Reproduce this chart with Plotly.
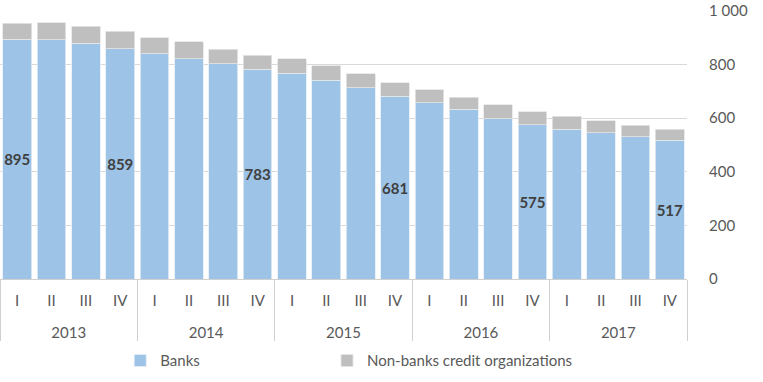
import plotly.graph_objects as go

years = ["2013"] * 4 + ["2014"] * 4 + ["2015"] * 4 + ["2016"] * 4 + ["2017"] * 4
quarters = ["I", "II", "III", "IV"] * 5
banks = [895, 893, 879, 859, 840, 821, 803, 783, 768, 742, 713, 681,
         657, 633, 598, 575, 558, 546, 531, 517]
nonbanks = [59, 64, 64, 65, 60, 64, 55, 51, 54, 54, 52, 51,
            49, 46, 52, 49, 49, 44, 43, 42]
label_idx = [0, 3, 7, 11, 15, 19]
bank_labels = [str(v) if i in label_idx else "" for i, v in enumerate(banks)]

# quarter labels carry an extra blank line so the year row sits lower
q_disp = [q + "<br> " for q in quarters]

FONT = "Lato"
fig = go.Figure()
fig.add_trace(go.Bar(
    x=[years, q_disp], y=banks, name="Banks", legend="legend",
    marker=dict(color="#9DC3E6", line=dict(color="#e6eef6", width=0.8)),
    text=bank_labels, textposition="inside", insidetextanchor="middle",
    constraintext="none", textangle=0,
    textfont=dict(family=FONT, size=15, color="#404040", weight="bold"),
))
fig.add_trace(go.Bar(
    x=[years, q_disp], y=nonbanks, name="Non-banks credit organizations", legend="legend2",
    marker=dict(color="#BFBFBF", line=dict(color="#e6e6e6", width=0.8)),
))
leg = dict(orientation="h", xanchor="left", y=-0.305, yanchor="middle",
           font=dict(size=15, color="#595959"), bgcolor="rgba(0,0,0,0)")
fig.update_layout(
    barmode="stack", bargap=0.165,
    width=763, height=382,
    margin=dict(l=0, r=76, t=11, b=103),
    plot_bgcolor="white", paper_bgcolor="white",
    font=dict(family=FONT, size=15, color="#595959"),
    legend=dict(leg, x=0.175),
    legend2=dict(leg, x=0.476),
    showlegend=True,
)
fig.update_xaxes(showline=True, linecolor="#d0d0d0", showdividers=True,
                 dividercolor="#d0d0d0", dividerwidth=1,
                 tickfont=dict(size=15, color="#595959"), ticks="",
                 ticklabelstandoff=8)
fig.update_yaxes(side="right", range=[0, 1000], tickvals=[0, 200, 400, 600, 800, 1000],
                 ticktext=["0", "200", "400", "600", "800", "1 000"],
                 showgrid=True, gridcolor="#d9d9d9", gridwidth=1, zeroline=False,
                 tickfont=dict(size=15, color="#595959"), ticklabelstandoff=21)
fig.write_html("out.html", config={"displayModeBar": False},
               post_script="document.body.style.margin='0';")
